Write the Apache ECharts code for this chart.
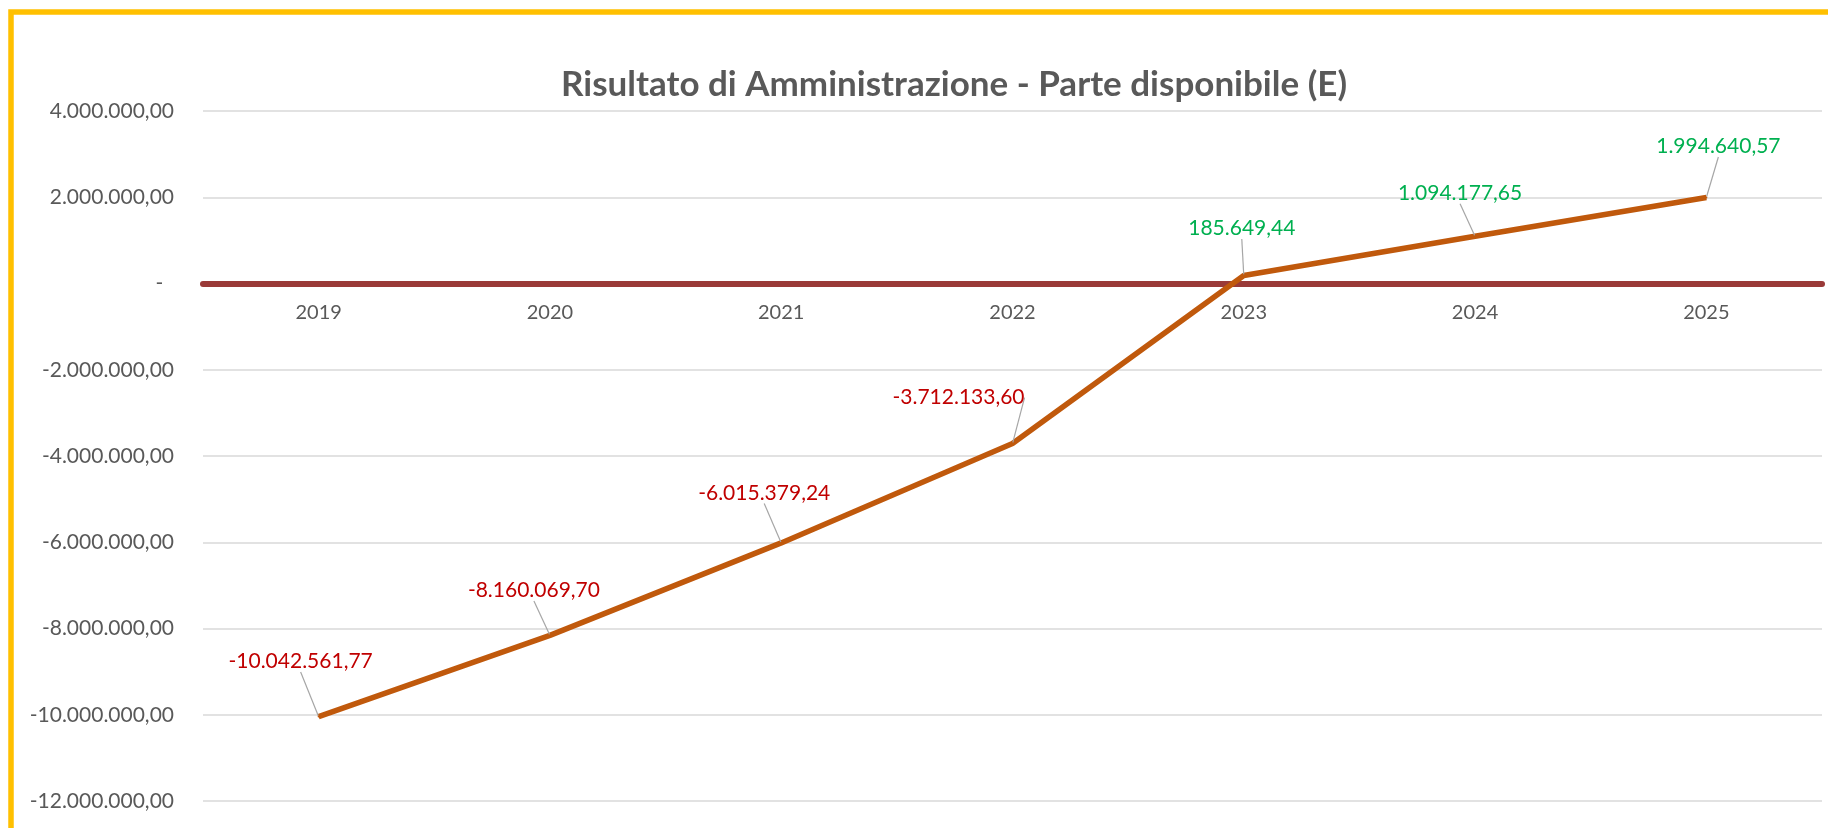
<!DOCTYPE html>
<html>
<head>
<meta charset="utf-8">
<script src="https://cdn.jsdelivr.net/npm/echarts@6/dist/echarts.min.js"></script>
<style>
  html, body { margin: 0; padding: 0; background: #fff; }
  #container { width: 1828px; height: 828px; }
</style>
</head>
<body>
<div id="container"></div>
<script>
var anni = ['2019', '2020', '2021', '2022', '2023', '2024', '2025'];
var risultato = [-10042561.77, -8160069.70, -6015379.24, -3712133.60, 185649.44, 1094177.65, 1994640.57];
var asseMin = -12000000;
var asseMax = 4000000;
var assePasso = 2000000;

// spostamento delle etichette rispetto al punto (px)
var spostaEtichette = [[-18, -55], [-16, -45], [-17, -50], [-54, -46], [-2, -47], [-15, -43], [12, -51]];

var gridTop = 111, gridBottom = 27, altezza = 828;

function formatIt(v) {
    var neg = v < 0;
    var s = Math.abs(v).toFixed(2).split('.');
    var intero = s[0].replace(/\B(?=(\d{3})+(?!\d))/g, '.');
    return (neg ? '-' : '') + intero + ',' + s[1];
}

// distanza tra il fondo della griglia e la linea dello zero
var altGriglia = altezza - gridTop - gridBottom;
var spostaAsse = -altGriglia * (0 - asseMin) / (asseMax - asseMin);

var dom = document.getElementById('container');
var myChart = echarts.init(dom);

var option = {
    backgroundColor: '#ffffff',
    animation: false,
    textStyle: { fontFamily: 'Lato, sans-serif' },
    graphic: [{
        type: 'rect',
        silent: true,
        z: 100,
        shape: { x: 11, y: 12, width: 1900, height: 900 },
        style: { fill: 'none', stroke: '#FFC000', lineWidth: 5.5 }
    }],
    title: {
        text: 'Risultato di Amministrazione - Parte disponibile (E)',
        left: 556,
        top: 62,
        textStyle: {
            fontFamily: 'Lato, sans-serif',
            fontSize: 35,
            fontWeight: 'bold',
            color: '#595959'
        }
    },
    grid: { left: 203, right: 6, top: gridTop, bottom: gridBottom },
    xAxis: {
        type: 'category',
        data: anni,
        boundaryGap: true,
        offset: spostaAsse,
        axisTick: { show: false },
        axisLine: { onZero: false, lineStyle: { color: '#9A3A38', width: 6 } },
        axisLabel: { color: '#595959', fontSize: 20, margin: 19 }
    },
    yAxis: {
        type: 'value',
        min: asseMin,
        max: asseMax,
        interval: assePasso,
        axisLine: { show: false },
        axisTick: { show: false },
        splitLine: { lineStyle: { color: '#D9D9D9', width: 1.5 } },
        axisLabel: {
            color: '#595959',
            fontSize: 21,
            margin: 29,
            formatter: function (v) { return v === 0 ? '-  ' : formatIt(v); }
        }
    },
    series: [{
        name: 'Risultato',
        type: 'line',
        data: risultato.map(function (v) {
            return { value: v, label: { color: v < 0 ? '#C00000' : '#00B050' } };
        }),
        symbol: 'circle',
        symbolSize: 2,
        lineStyle: { color: '#C0590C', width: 5.5 },
        itemStyle: { color: '#C0590C' },
        label: {
            show: true,
            position: 'inside',
            fontSize: 21,
            formatter: function (p) { return formatIt(p.value); }
        },
        labelLine: { show: true, lineStyle: { color: '#A6A6A6', width: 1.2 } },
        labelLayout: function (params) {
            var s = spostaEtichette[params.dataIndex];
            return { dx: s[0], dy: s[1] };
        },
        z: 3
    }]
};

myChart.setOption(option, true);
</script>
</body>
</html>
